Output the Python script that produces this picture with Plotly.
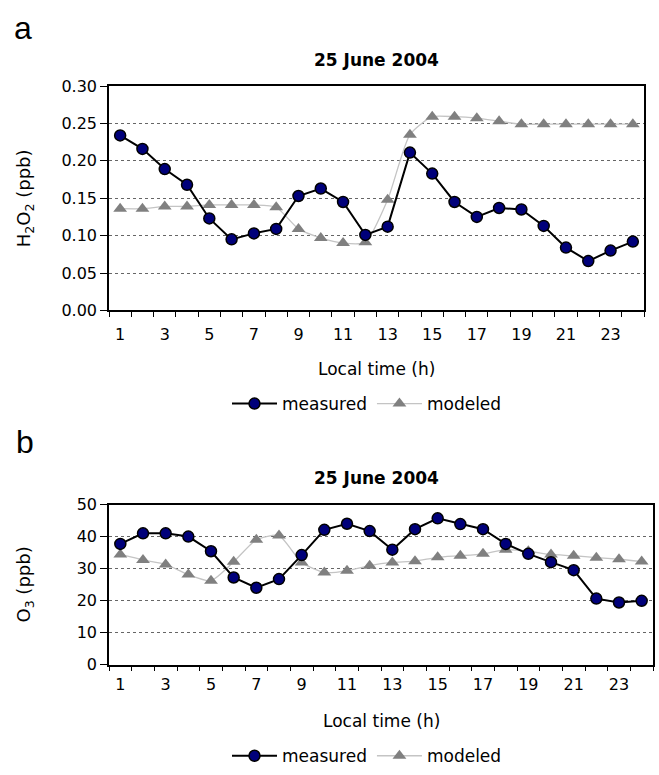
import plotly.graph_objects as go

hours = list(range(1, 25))
h2o2_measured = [0.234, 0.216, 0.189, 0.168, 0.123, 0.095, 0.103, 0.109, 0.153, 0.163, 0.145, 0.101,
                 0.112, 0.211, 0.183, 0.145, 0.125, 0.137, 0.135, 0.113, 0.084, 0.066, 0.080, 0.092]
h2o2_modeled = [0.136, 0.136, 0.139, 0.139, 0.141, 0.141, 0.141, 0.138, 0.109, 0.097, 0.090, 0.091,
                0.148, 0.235, 0.259, 0.259, 0.257, 0.253, 0.249, 0.249, 0.249, 0.249, 0.249, 0.249]
o3_measured = [37.7, 41.0, 41.0, 40.0, 35.4, 27.2, 24.0, 26.7, 34.2, 42.1, 44.0, 41.7,
               35.9, 42.3, 45.7, 43.9, 42.3, 37.7, 34.6, 32.0, 29.5, 20.6, 19.4, 19.9]
o3_modeled = [34.4, 32.7, 31.3, 28.1, 26.2, 32.1, 39.0, 40.3, 31.9, 28.8, 29.3, 30.9,
              31.9, 32.3, 33.5, 34.0, 34.6, 35.9, 35.4, 34.4, 34.0, 33.4, 32.9, 32.2]
x_ticks = list(range(1, 24, 2))
title_text = "25 June 2004"
x_title = "Local time (h)"
y_title_a = "H<sub>2</sub>O<sub>2</sub> (ppb)"
y_title_b = "O<sub>3</sub> (ppb)"

W, H = 659, 775
FONT = "DejaVu Sans, Liberation Sans, Arial, sans-serif"
LETTER_FONT = "Liberation Sans, Arial, sans-serif"
NAVY = "#00007a"

fig = go.Figure()

def add_panel(yvals_m, yvals_mod, xa, ya, leg):
    # modeled drawn first (underneath), but listed second in legend
    fig.add_trace(go.Scatter(
        x=hours, y=yvals_mod, name="modeled", mode="lines+markers", legendrank=2,
        line=dict(color="#c4c4c4", width=1.3, shape="spline", smoothing=0.6),
        marker=dict(symbol="triangle-up", size=12, color="#808080"),
        xaxis=xa, yaxis=ya, legend=leg))
    fig.add_trace(go.Scatter(
        x=hours, y=yvals_m, name="measured", mode="lines+markers", legendrank=1,
        line=dict(color="black", width=2),
        marker=dict(symbol="circle", size=11, color=NAVY, line=dict(color="black", width=1.5)),
        xaxis=xa, yaxis=ya, legend=leg))

add_panel(h2o2_measured, h2o2_modeled, "x", "y", "legend")
add_panel(o3_measured, o3_modeled, "x2", "y2", "legend2")

def px_x(a, b):
    return [a / W, b / W]

def px_y(top, bottom):
    return [1 - bottom / H, 1 - top / H]

def xaxis_cfg(domain, anchor, standoff):
    return dict(
        domain=domain, anchor=anchor,
        range=[0.5, 24.5], tickvals=x_ticks, ticks="", showgrid=False, zeroline=False,
        showline=True, linecolor="black", linewidth=1.5, mirror=True,
        tickfont=dict(family=FONT, size=16, color="black"),
        ticklabelstandoff=standoff,
        minor=dict(tickvals=[i + 0.5 for i in range(0, 25)], ticks="outside", ticklen=5,
                   tickcolor="black", tickwidth=1, showgrid=False),
        fixedrange=True,
    )

ycommon = dict(
    showline=True, linecolor="black", linewidth=1.5, mirror=True, zeroline=False,
    ticks="outside", ticklen=7, tickcolor="black",
    showgrid=True, gridcolor="#666666", griddash="dot", gridwidth=1,
    tickfont=dict(family=FONT, size=16, color="black"),
    fixedrange=True,
)

leg_common = dict(orientation="h", xanchor="center", yanchor="middle",
                  traceorder="normal", font=dict(family=FONT, size=17, color="black"),
                  bgcolor="rgba(0,0,0,0)", itemwidth=45)

fig.update_layout(
    width=W, height=H, margin=dict(l=0, r=0, t=0, b=0),
    paper_bgcolor="white", plot_bgcolor="white",
    font=dict(family=FONT, color="black"),
    xaxis=xaxis_cfg(px_x(109, 644), "y", 9),
    yaxis=dict(domain=px_y(79, 309), anchor="x", range=[0, 0.30], dtick=0.05, tickformat=".2f",
               **ycommon),
    xaxis2=xaxis_cfg(px_x(109, 653), "y2", 5),
    yaxis2=dict(domain=px_y(508, 672), anchor="x2", range=[0, 50], dtick=10, **ycommon),
    legend=dict(x=367 / W, y=1 - 405 / H, **leg_common),
    legend2=dict(x=367 / W, y=1 - 766 / H, **leg_common),
    showlegend=True,
)

def ann(text, x, y, size, family=FONT, xanchor="center", angle=0):
    fig.add_annotation(xref="paper", yref="paper", showarrow=False, xanchor=xanchor,
                       yanchor="middle", text=text, x=x / W, y=1 - y / H, textangle=angle,
                       font=dict(family=family, color="black", size=size))

ann("a", 12, 19, 32, family=LETTER_FONT, xanchor="left")
ann("b", 14, 444, 32, family=LETTER_FONT, xanchor="left")
ann("<b>" + title_text + "</b>", 376, 52, 17)
ann("<b>" + title_text + "</b>", 376, 481, 17)
ann(x_title, 376, 369, 17)
ann(x_title, 381, 730, 17)
ann(y_title_a, 25, 194, 18, angle=-90)
ann(y_title_b, 25, 590, 18, angle=-90)

fig.write_html("out.html")
